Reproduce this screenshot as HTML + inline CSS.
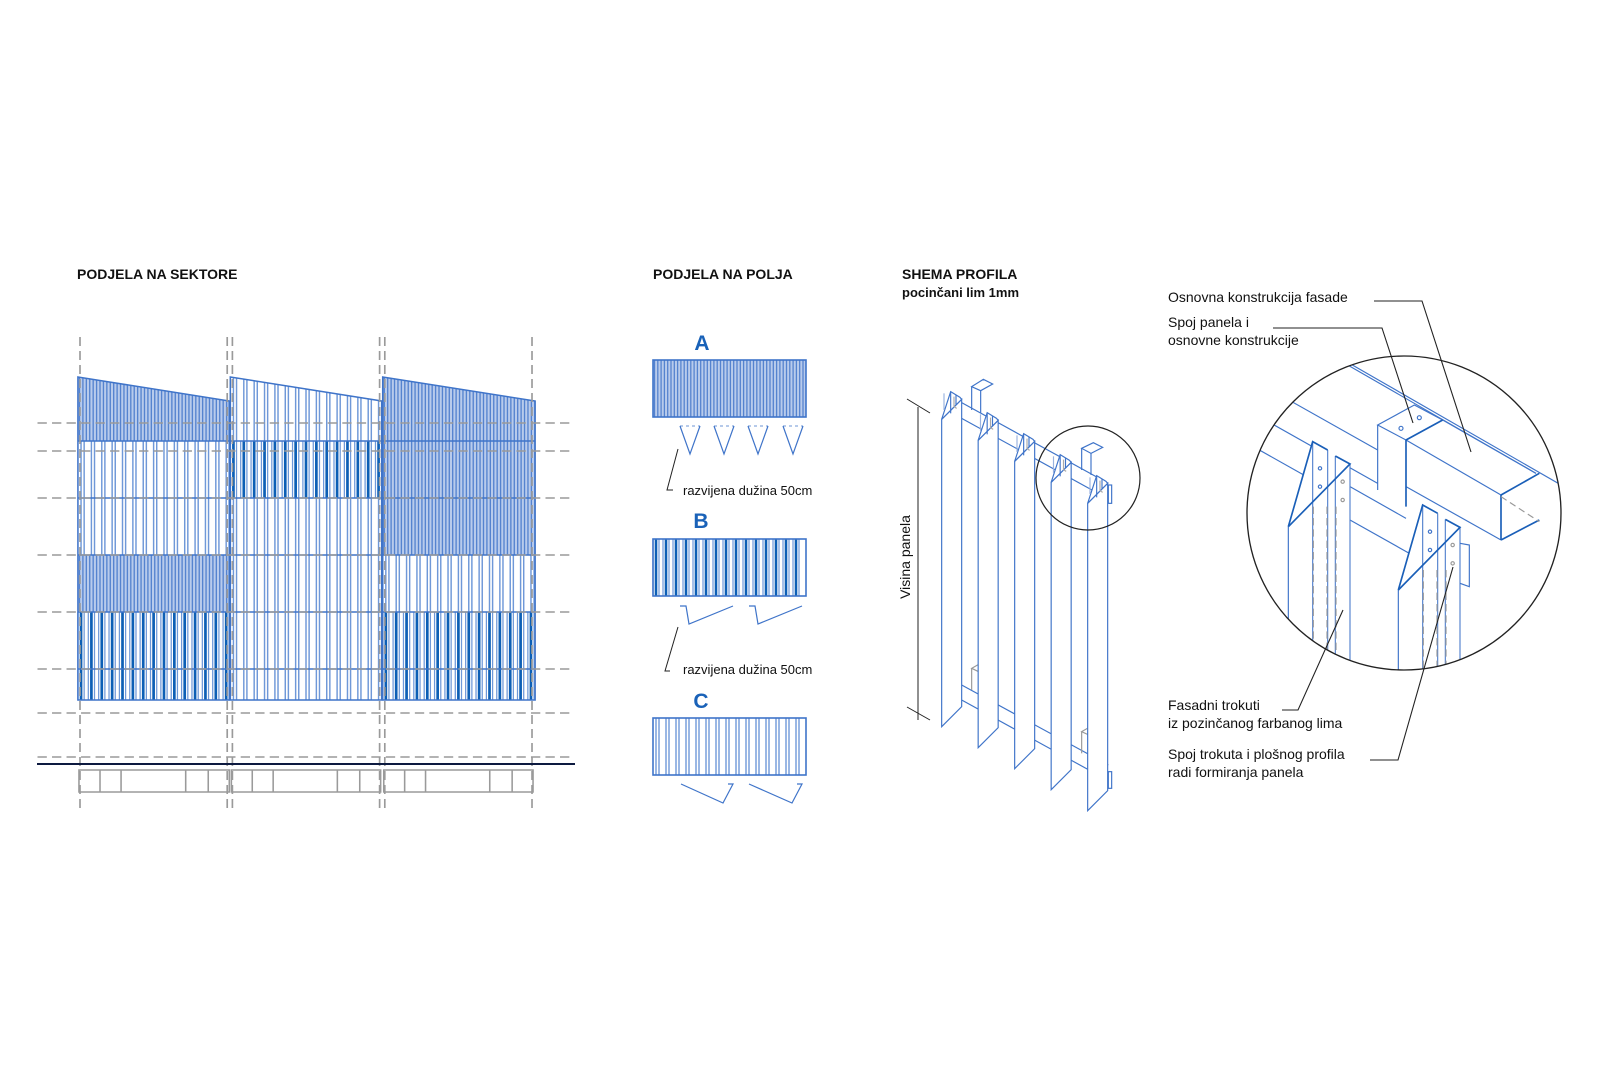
<!DOCTYPE html>
<html><head><meta charset="utf-8">
<style>
html,body{margin:0;padding:0;background:#fff;}
svg{display:block;}
text{font-family:"Liberation Sans",Arial,sans-serif;}
</style></head>
<body>
<svg id="s" width="1600" height="1067" viewBox="0 0 1600 1067" xmlns="http://www.w3.org/2000/svg">
<rect width="1600" height="1067" fill="#fff"/>
<!-- titles -->
<text x="77" y="279" font-size="14" font-weight="bold" fill="#111">PODJELA NA SEKTORE</text>
<text x="653" y="279" font-size="14" font-weight="bold" fill="#111">PODJELA NA POLJA</text>
<text x="902" y="279" font-size="14" font-weight="bold" fill="#111">SHEMA PROFILA</text>
<text x="902" y="297" font-size="13" font-weight="bold" fill="#111">pocinčani lim 1mm</text>

<g transform="translate(-0.86,0) scale(1.0367,1)">
<g id="facade"></g>
<g id="dash" stroke="#9a9a9a" stroke-width="1.6" stroke-dasharray="9,5" fill="none"></g>
<g fill="none" stroke="#9a9a9a" stroke-width="1.5" id="base"></g>
</g>
<line x1="37" y1="764" x2="575" y2="764" stroke="#0d1a40" stroke-width="2"/>

<!-- middle panels -->
<g id="panels"></g>
<text x="702" y="350" font-size="21" font-weight="bold" fill="#1a62b8" text-anchor="middle">A</text>
<text x="701" y="528" font-size="21" font-weight="bold" fill="#1a62b8" text-anchor="middle">B</text>
<text x="701" y="708" font-size="21" font-weight="bold" fill="#1a62b8" text-anchor="middle">C</text>
<g fill="none" stroke="#3f74c9" stroke-width="1.2">
  <g id="tris"></g>
  <polyline points="680,606 686,606 689,624 733,606"/>
  <polyline points="749,606 755,606 758,624 802,606"/>
  <polyline points="681,784 723,803 733,784 728,784"/>
  <polyline points="749,784 792,803 802,784 797,784"/>
</g>
<g fill="none" stroke="#222" stroke-width="1">
  <polyline points="678,449 667,490 673,490"/>
  <polyline points="678,627 665,671 670,671"/>
</g>
<text x="683" y="495" font-size="13" fill="#111">razvijena dužina 50cm</text>
<text x="683" y="674" font-size="13" fill="#111">razvijena dužina 50cm</text>

<!-- profile -->
<g stroke="#222" stroke-width="1" fill="none">
  <line x1="918" y1="407" x2="918" y2="720"/>
  <line x1="907" y1="399" x2="930" y2="413"/>
  <line x1="907" y1="707" x2="930" y2="720"/>
</g>
<text transform="translate(910,557) rotate(-90)" font-size="14" fill="#111" text-anchor="middle">Visina panela</text>
<g transform="translate(860,360) scale(0.33333)" fill="none" stroke="#3f74c9" stroke-width="3.5" id="prof">
  <line x1="305" y1="128" x2="745" y2="370"/>
  <line x1="305" y1="175" x2="745" y2="417"/>
  <line x1="305" y1="975" x2="745" y2="1215"/>
  <line x1="305" y1="1020" x2="745" y2="1262"/>
  <polygon points="335,80 370,58 398,72 362,92" fill="#fff"/>
  <line x1="335" y1="80" x2="335" y2="150"/><line x1="362" y1="92" x2="362" y2="160"/>
  <polygon points="665,265 700,248 728,262 693,280" fill="#fff"/>
  <line x1="665" y1="265" x2="665" y2="330"/><line x1="693" y1="280" x2="693" y2="345"/>
  <g stroke="#999">
  <polygon points="335,925 370,905 398,918 362,938" fill="#fff"/>
  <line x1="335" y1="925" x2="335" y2="990"/><line x1="362" y1="938" x2="362" y2="1005"/>
  <polygon points="665,1115 700,1095 728,1108 693,1128" fill="#fff"/>
  <line x1="665" y1="1115" x2="665" y2="1180"/><line x1="693" y1="1128" x2="693" y2="1195"/>
  </g>
  <g id="pp"></g>
  <rect x="745" y="375" width="10" height="55" fill="#fff"/>
  <rect x="745" y="1235" width="10" height="50" fill="#fff"/>
</g>
<circle cx="1088" cy="478" r="52" fill="none" stroke="#222" stroke-width="1.2"/>

<!-- detail -->
<defs><clipPath id="cc"><circle cx="594" cy="519" r="471"/></clipPath></defs>
<g transform="translate(1206,340) scale(0.33333)">
<g clip-path="url(#cc)" fill="none" stroke="#3f74c9" stroke-width="3.5">
  <line x1="100" y1="-120" x2="1100" y2="455"/>
  <line x1="425" y1="75" x2="990" y2="400"/>
  <line x1="0" y1="40" x2="515" y2="330"/>
  <line x1="0" y1="140" x2="515" y2="430"/>
  <line x1="0" y1="240" x2="320" y2="420"/>
  <line x1="432" y1="440" x2="600" y2="535"/>
  <line x1="432" y1="540" x2="610" y2="640"/>
  <line x1="600" y1="440" x2="885" y2="600"/>
  <line x1="600" y1="300" x2="885" y2="465"/>
  <polygon points="515,255 625,195 710,240 600,300" fill="#fff"/>
  <line x1="600" y1="300" x2="710" y2="240" stroke="#1a5fb8" stroke-width="5"/>
  <line x1="515" y1="255" x2="515" y2="450"/>
  <line x1="600" y1="300" x2="600" y2="500" stroke="#1a5fb8" stroke-width="5"/>
  <circle cx="585" cy="265" r="6"/><circle cx="640" cy="233" r="6"/>
  <line x1="710" y1="240" x2="990" y2="400"/>
  <line x1="885" y1="465" x2="1000" y2="400" stroke="#1a5fb8" stroke-width="5"/>
  <line x1="885" y1="465" x2="885" y2="600" stroke="#1a5fb8" stroke-width="5"/>
  <line x1="885" y1="600" x2="1000" y2="540" stroke="#1a5fb8" stroke-width="5"/>
  <line x1="885" y1="470" x2="1000" y2="545" stroke="#999" stroke-dasharray="20,12"/>
  <g id="dp"></g>
</g>
<circle cx="594" cy="519" r="471" fill="none" stroke="#222" stroke-width="4"/>
</g>
<g fill="none" stroke="#222" stroke-width="1.1">
  <polyline points="1374,301 1422,301 1471,452"/>
  <polyline points="1273,328 1382,328 1413,423"/>
  <polyline points="1282,710 1298,710 1343,610"/>
  <polyline points="1370,760 1398,760 1453,567"/>
</g>
<g font-size="14" fill="#111">
<text x="1168" y="302">Osnovna konstrukcija fasade</text>
<text x="1168" y="327">Spoj panela i</text>
<text x="1168" y="345">osnovne konstrukcije</text>
<text x="1168" y="710">Fasadni trokuti</text>
<text x="1168" y="728">iz pozinčanog farbanog lima</text>
<text x="1168" y="759">Spoj trokuta i plošnog profila</text>
<text x="1168" y="777">radi formiranja panela</text>
</g>
</svg>
<script>
var NS="http://www.w3.org/2000/svg";
function el(p,t,a){var e=document.createElementNS(NS,t);for(var k in a)e.setAttribute(k,a[k]);p.appendChild(e);return e;}
var F=document.getElementById('facade');
var LB="#6f98d8", MB="#3f74c9", DB="#0d5fb5";
function region(g,x0,x1,ytop,y1,type){
  if(type=='D'){
    var pts=[];for(var x=x0;x<=x1;x+=2){pts.push(x+','+ytop(x));}
    el(g,'polygon',{points:x0+','+y1+' '+pts.join(' ')+' '+x1+','+ytop(x1)+' '+x1+','+y1,fill:'#b8cbec',stroke:'none'});
    for(var x=x0+1.5;x<x1;x+=3.3) el(g,'line',{x1:x,y1:ytop(x),x2:x,y2:y1,stroke:'#5583cf','stroke-width':1.3});
  } else if(type=='S'){
    for(var x=x0+3;x<x1;x+=10){
      el(g,'line',{x1:x,y1:ytop(x),x2:x,y2:y1,stroke:LB,'stroke-width':1.4});
      if(x+3<x1)el(g,'line',{x1:x+3,y1:ytop(x+3),x2:x+3,y2:y1,stroke:LB,'stroke-width':1.4});
    }
  } else {
    for(var x=x0+3;x<x1;x+=10){
      el(g,'line',{x1:x-3,y1:ytop(x-3),x2:x-3,y2:y1,stroke:LB,'stroke-width':1.2});
      el(g,'line',{x1:x,y1:ytop(x),x2:x,y2:y1,stroke:DB,'stroke-width':2.6});
      if(x+3<x1)el(g,'line',{x1:x+3,y1:ytop(x+3),x2:x+3,y2:y1,stroke:LB,'stroke-width':1.2});
    }
  }
}
var sec=[[76,222],[223,369],[370,517]];
var rows=[441,498,555,612,669,700];
var pat=[['D','S','S','D','B','B'],['S','B','S','S','S','S'],['D','D','D','S','B','B']];
for(var s=0;s<3;s++){
  var a=sec[s][0],b=sec[s][1];
  var topf=(function(a,b){return function(x){return 377+24*(x-a)/(b-a);};})(a,b);
  for(var r=0;r<6;r++){
    var yt=r==0?topf:(function(v){return function(){return v;};})(rows[r-1]);
    region(F,a,b,yt,rows[r],pat[s][r]);
  }
  el(F,'polygon',{points:a+',700 '+a+',377 '+b+',401 '+b+',700',fill:'none',stroke:MB,'stroke-width':1.5});
  for(var r=0;r<5;r++) el(F,'line',{x1:a,y1:rows[r],x2:b,y2:rows[r],stroke:MB,'stroke-width':1.5});
}
var D=document.getElementById('dash');
[423,451,498,555,612,669,713,757].forEach(function(y){el(D,'line',{x1:37,y1:y,x2:552,y2:y});});
[78,220,225,367,372,514].forEach(function(x){el(D,'line',{x1:x,y1:337,x2:x,y2:810});});
var B=document.getElementById('base');
[[77,222],[224,368],[371,515]].forEach(function(p){
  var w=p[1]-p[0];el(B,'rect',{x:p[0],y:770,width:w,height:22});
  [0.14,0.28,0.71,0.86].forEach(function(f){var x=p[0]+w*f;el(B,'line',{x1:x,y1:770,x2:x,y2:792});});
});
var P=document.getElementById('panels');
function panel(y,type){
  var x0=653,x1=806,y1=y+57;
  region(P,x0,x1,function(){return y;},y1,type);
  el(P,'rect',{x:x0,y:y,width:x1-x0,height:57,fill:'none',stroke:MB,'stroke-width':1.6});
}
panel(360,'D');panel(539,'B');panel(718,'S');
var T=document.getElementById('tris');
[690,724,758,793].forEach(function(c){
  el(T,'line',{x1:c-10,y1:426,x2:c+10,y2:426,'stroke-dasharray':'3,3','stroke-width':0.8});
  el(T,'polyline',{points:(c-10)+',426 '+c+',454 '+(c+10)+',426'});
});
var PP=document.getElementById('pp');
for(var i=0;i<5;i++){
  var dx=109.5*i,dy=63*i;
  var g=el(PP,'g',{transform:'translate('+dx+','+dy+')'});
  el(g,'polygon',{points:'245,178 305,118 305,1040 245,1100',fill:'#fff'});
  el(g,'polygon',{points:'245,178 272,95 300,112 305,118',fill:'#fff'});
  el(g,'line',{x1:272,y1:95,x2:272,y2:160});
  el(g,'line',{x1:252,y1:100,x2:252,y2:150,stroke:'#9ab3e0'});
  el(g,'line',{x1:288,y1:105,x2:288,y2:135});
  el(g,'polyline',{points:'282,110 282,140 290,145',stroke:'#aaa'});
}
var DP=document.getElementById('dp');
[[0,0],[330,190]].forEach(function(o){
  var g=el(DP,'g',{transform:'translate('+o[0]+','+o[1]+')'});
  el(g,'polygon',{points:'247,560 320,305 365,330 365,1100 247,1100',fill:'#fff',stroke:'none'});
  el(g,'polygon',{points:'365,330 388,348 432,372 432,1100 365,1100',fill:'#fff',stroke:'none'});
  [[320,305],[365,330],[388,348],[432,372]].forEach(function(p){el(g,'line',{x1:p[0],y1:p[1],x2:p[0],y2:1100,stroke:'#5583cf'});});
  el(g,'line',{x1:247,y1:560,x2:247,y2:1100});
  [322,363,390].forEach(function(x){el(g,'line',{x1:x,y1:500,x2:x,y2:1100,stroke:'#999','stroke-dasharray':'22,12'});});
  el(g,'polyline',{points:'247,560 320,305 365,330',stroke:'#1a5fb8','stroke-width':5});
  el(g,'polyline',{points:'247,560 432,372 388,348',stroke:'#1a5fb8','stroke-width':5});
  el(g,'circle',{cx:342,cy:385,r:5});el(g,'circle',{cx:342,cy:440,r:5});
  el(g,'circle',{cx:410,cy:425,r:5,stroke:'#999'});el(g,'circle',{cx:410,cy:480,r:5,stroke:'#999'});
});
el(DP,'polyline',{points:'762,610 790,615 790,740 762,730'});
</script>
</body></html>
